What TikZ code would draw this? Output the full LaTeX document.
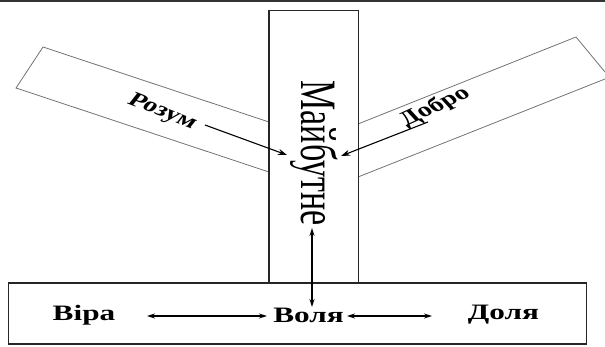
\documentclass[tikz,border=0pt]{standalone}
\usepackage{fontspec}
\setmainfont{Liberation Serif}
\newfontfamily\tms{Liberation Serif}
\usetikzlibrary{arrows.meta}
\tikzset{
  thinrect/.style={draw=black!55, line width=0.8pt},
  boldrect/.style={draw=black!85, line width=1.3pt},
  conn/.style={line width=1.1pt, -{Stealth[length=9pt,width=6pt]}},
  dconn/.style={line width=1.1pt, {Stealth[length=8pt,width=5pt]}-{Stealth[length=8pt,width=5pt]}},
  lbl/.style={font=\tms\fontsize{22pt}{24pt}\selectfont\bfseries, inner sep=0pt, transform shape},
  slbl/.style={font=\tms\fontsize{20pt}{22pt}\selectfont\bfseries, inner sep=0pt, transform shape},
}
\begin{document}
\begin{tikzpicture}[x={(1pt,0pt)}, y={(0pt,-1pt)}]
\useasboundingbox (0,0) rectangle (605,347);
% top rule
\draw[black!80, line width=1.6pt] (0,0.8) -- (605,0.8);
% slanted rectangles
\draw[thinrect] (269,122) -- (43,47) -- (16,88) -- (269,172);
\draw[thinrect] (358,124) -- (576,37) -- (605,72);
\draw[thinrect] (605,79) -- (358,177);
% vertical and bottom rectangles
\draw[boldrect, fill=white] (269,10.7) rectangle (358.5,283);
\draw[boldrect] (8.3,283) rectangle (586.7,344);
% texts
\begin{scope}[shift={(314.5,153)}, xscale=1.5]
  \node[transform shape, rotate=-90, inner sep=0pt, font=\tms\fontsize{34pt}{36pt}\selectfont] (maib) at (0,0) {Майбутне};
\end{scope}
\begin{scope}[shift={(84,315)}, xscale=1.42]
  \node[lbl] (vira) at (0,0) {Віра};
\end{scope}
\begin{scope}[shift={(308.5,315)}, xscale=1.42]
  \node[lbl] (volia) at (0,0) {Воля};
\end{scope}
\begin{scope}[shift={(503.5,315)}, xscale=1.42]
  \node[lbl] (dolia) at (0,0) {Доля};
\end{scope}
\begin{scope}[shift={(162,112)}, xscale=1.42]
  \node[slbl, rotate=-29] (rozum) at (0,0) {Розум};
\end{scope}
\begin{scope}[shift={(435,107)}, xscale=1.42]
  \node[slbl, rotate=33] (dobro) at (0,0) {Добро};
\end{scope}
% arrow endpoints
\coordinate (r1) at (205,125);
\coordinate (r2) at (287,155);
\coordinate (d1) at (428,122);
\coordinate (d2) at (341,156);
\coordinate (m1) at (312,228);
\coordinate (m2) at (312,307);
\coordinate (a1) at (147,316);
\coordinate (a2) at (267,316);
\coordinate (b1) at (347,316);
\coordinate (b2) at (432,316);
\draw[conn] (r1) -- (r2);
\draw[conn] (d1) -- (d2);
\draw[dconn] (m1) -- (m2);
\draw[dconn] (a1) -- (a2);
\draw[dconn] (b1) -- (b2);
\end{tikzpicture}
\end{document}
